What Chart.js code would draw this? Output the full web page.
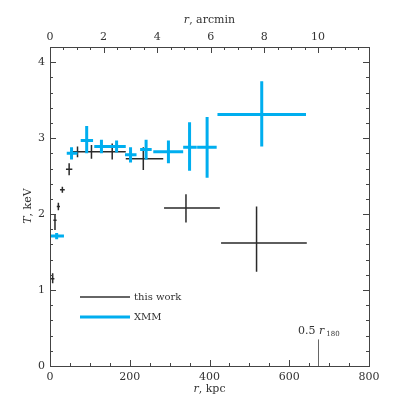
<!DOCTYPE html>
<html>
<head>
<meta charset="utf-8">
<script src="https://cdn.jsdelivr.net/npm/chart.js@4.4.0/dist/chart.umd.min.js"></script>
<style>
  body { margin: 0; background: #fff; }
  #wrap { width: 403px; height: 403px; }
</style>
</head>
<body>
<div id="wrap"><canvas id="tempChart" width="403" height="403"></canvas></div>
<script>
// this work (Chandra) - radius in kpc, T in keV
const workR    = [6.7, 12.5, 21, 31, 48, 69, 104, 156, 234, 341, 518];
const workRLo  = [2, 8.5, 17, 25, 40, 57, 84, 130, 190, 286, 429];
const workRHi  = [11, 16.5, 25, 37, 56, 84, 130, 190, 284, 426, 644];
const workT    = [1.15, 1.92, 2.10, 2.32, 2.59, 2.82, 2.82, 2.82, 2.73, 2.08, 1.62];
const workTLo  = [1.09, 1.79, 2.05, 2.28, 2.51, 2.75, 2.73, 2.72, 2.58, 1.89, 1.24];
const workTHi  = [1.22, 1.99, 2.15, 2.36, 2.67, 2.89, 2.91, 2.93, 2.88, 2.26, 2.10];

// XMM
const xmmR    = [16.7, 54, 92, 129, 167, 202, 241, 297, 350, 394, 531];
const xmmRLo  = [2.5, 42, 77, 111, 149, 188, 226, 259, 334, 369, 420];
const xmmRHi  = [35, 69, 108, 149, 190, 217, 255, 334, 368, 418, 642];
const xmmT    = [1.71, 2.80, 2.97, 2.89, 2.89, 2.78, 2.85, 2.82, 2.88, 2.88, 3.31];
const xmmTLo  = [1.67, 2.72, 2.80, 2.80, 2.81, 2.68, 2.72, 2.67, 2.57, 2.48, 2.89];
const xmmTHi  = [1.75, 2.88, 3.16, 2.98, 2.97, 2.88, 2.98, 2.97, 3.21, 3.28, 3.75];

// axes
const kpcTicks = [0, 200, 400, 600, 800];
const arcminTicks = [0, 2, 4, 6, 8, 10];
const tTicks = [0, 1, 2, 3, 4];
const kpcPerArcmin = 67.2;
const r180Half = 673;

const serif = '"DejaVu Serif", "Liberation Serif", serif';

// construye segmentos de cruces separados por huecos
function crossData(r, rLo, rHi, t, tLo, tHi) {
    const pts = [];
    for (let i = 0; i < r.length; i++) {
        pts.push({x: rLo[i], y: t[i]}, {x: rHi[i], y: t[i]}, {x: r[i], y: null});
        pts.push({x: r[i], y: tLo[i]}, {x: r[i], y: tHi[i]}, {x: r[i], y: null});
    }
    return pts;
}

const framePlugin = {
    id: 'frame',
    afterDraw(chart) {
        const ctx = chart.ctx;
        const a = chart.chartArea;
        const x = chart.scales.x, y = chart.scales.y, top = chart.scales.x2;
        ctx.save();
        ctx.strokeStyle = '#444';
        ctx.lineWidth = 1;
        ctx.strokeRect(a.left + 0.5, a.top + 0.5, a.right - a.left, a.bottom - a.top);

        // ticks hacia dentro
        ctx.beginPath();
        for (let v = 0; v <= 800; v += 50) {
            const px = Math.round(x.getPixelForValue(v)) + 0.5;
            const len = v % 200 === 0 ? 6 : 3;
            ctx.moveTo(px, a.bottom); ctx.lineTo(px, a.bottom - len);
        }
        for (let v = 0; v <= 11.9; v += 0.5) {
            const px = Math.round(top.getPixelForValue(v)) + 0.5;
            const len = v % 2 === 0 ? 6 : 3;
            ctx.moveTo(px, a.top); ctx.lineTo(px, a.top + len);
        }
        for (let k = 0; k <= 21; k++) {
            const v = k * 0.2;
            const py = Math.round(y.getPixelForValue(v)) + 0.5;
            const len = k % 5 === 0 ? 6 : 3;
            ctx.moveTo(a.left, py); ctx.lineTo(a.left + len, py);
            ctx.moveTo(a.right, py); ctx.lineTo(a.right - len, py);
        }
        ctx.stroke();

        // etiquetas
        ctx.fillStyle = '#333';
        ctx.font = '11px ' + serif;
        ctx.textAlign = 'center';
        ctx.textBaseline = 'middle';
        kpcTicks.forEach(v => ctx.fillText(String(v), x.getPixelForValue(v), a.bottom + 11));
        arcminTicks.forEach(v => ctx.fillText(String(v), top.getPixelForValue(v), a.top - 10));
        ctx.textAlign = 'right';
        tTicks.forEach(v => ctx.fillText(String(v), a.left - 5, y.getPixelForValue(v)));

        // titulos de ejes
        function label(cx, cy, italic, rest) {
            ctx.font = 'italic 11px ' + serif;
            const w1 = ctx.measureText(italic).width;
            ctx.font = '11px ' + serif;
            const w2 = ctx.measureText(rest).width;
            const x0 = cx - (w1 + w2) / 2;
            ctx.textAlign = 'left';
            ctx.font = 'italic 11px ' + serif;
            ctx.fillText(italic, x0, cy);
            ctx.font = '11px ' + serif;
            ctx.fillText(rest, x0 + w1, cy);
        }
        label((a.left + a.right) / 2, 389, 'r', ', kpc');
        label((a.left + a.right) / 2, 20, 'r', ', arcmin');
        ctx.save();
        ctx.translate(28, 206);
        ctx.rotate(-Math.PI / 2);
        label(0, 0, 'T', ', keV');
        ctx.restore();

        // 0.5 r180
        const rx = Math.round(x.getPixelForValue(r180Half)) + 0.5;
        ctx.strokeStyle = '#666';
        ctx.beginPath();
        ctx.moveTo(rx, a.bottom); ctx.lineTo(rx, y.getPixelForValue(0.35));
        ctx.stroke();
        ctx.textAlign = 'left';
        ctx.font = '11px ' + serif;
        ctx.fillText('0.5 ', 298, 331);
        const w = ctx.measureText('0.5 ').width;
        ctx.font = 'italic 11px ' + serif;
        ctx.fillText('r', 298 + w, 331);
        const wr = ctx.measureText('r').width;
        ctx.font = '7px ' + serif;
        ctx.fillText('180', 298 + w + wr + 2, 334);

        // leyenda
        const legend = [
            {text: 'this work', color: '#333', width: 1.5, y: 297},
            {text: 'XMM', color: '#00aeef', width: 3, y: 317}
        ];
        legend.forEach(item => {
            ctx.strokeStyle = item.color;
            ctx.lineWidth = item.width;
            ctx.beginPath();
            ctx.moveTo(80, item.y); ctx.lineTo(130, item.y);
            ctx.stroke();
            ctx.fillStyle = '#333';
            ctx.font = '10px ' + serif;
            ctx.fillText(item.text, 134, item.y);
        });
        ctx.restore();
    }
};

const ctx = document.getElementById('tempChart').getContext('2d');
const tempChart = new Chart(ctx, {
    type: 'scatter',
    data: {
        datasets: [{
            label: 'XMM',
            data: crossData(xmmR, xmmRLo, xmmRHi, xmmT, xmmTLo, xmmTHi),
            borderColor: '#00aeef',
            borderWidth: 3,
            borderCapStyle: 'butt',
            showLine: true,
            spanGaps: false,
            pointRadius: 0
        }, {
            label: 'this work',
            data: crossData(workR, workRLo, workRHi, workT, workTLo, workTHi),
            borderColor: '#2a2a2a',
            borderWidth: 1.5,
            showLine: true,
            spanGaps: false,
            pointRadius: 0
        }]
    },
    options: {
        responsive: false,
        animation: false,
        layout: { padding: { left: 50, right: 34, top: 47, bottom: 37 } },
        plugins: {
            legend: { display: false },
            tooltip: { enabled: false }
        },
        scales: {
            x: { type: 'linear', min: 0, max: 800, display: false },
            x2: { type: 'linear', position: 'top', min: 0, max: 800 / kpcPerArcmin, display: false },
            y: { type: 'linear', min: 0, max: 4.2, display: false }
        }
    },
    plugins: [framePlugin]
});
</script>
</body>
</html>
